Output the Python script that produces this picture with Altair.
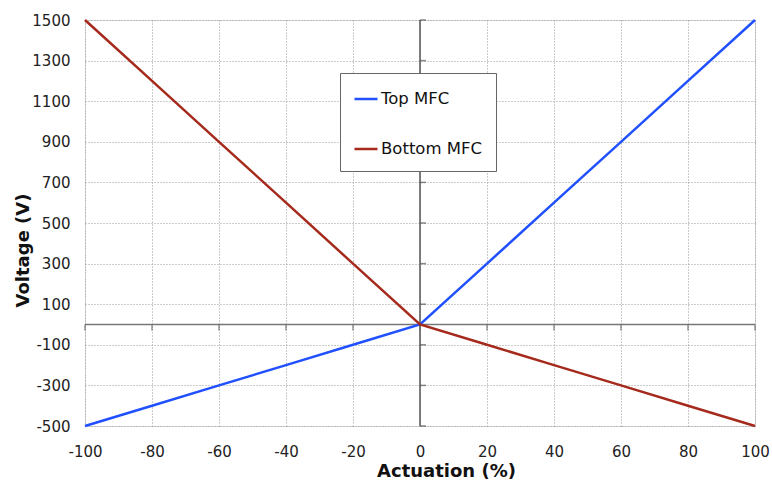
import altair as alt
import pandas as pd

actuation = [-100, -80, -60, -40, -20, 0, 20, 40, 60, 80, 100]
top_mfc = [-500, -400, -300, -200, -100, 0, 300, 600, 900, 1200, 1500]
bottom_mfc = [1500, 1200, 900, 600, 300, 0, -100, -200, -300, -400, -500]
series_names = ["Top MFC", "Bottom MFC"]
series_colors = ["#2050ff", "#a52a1c"]
x_ticks = [-100, -80, -60, -40, -20, 0, 20, 40, 60, 80, 100]
y_ticks = [-500, -300, -100, 100, 300, 500, 700, 900, 1100, 1300, 1500]

rows = []
for xv, t, b in zip(actuation, top_mfc, bottom_mfc):
    rows.append({"x": xv, "y": t, "s": "Top MFC"})
    rows.append({"x": xv, "y": b, "s": "Bottom MFC"})
df = pd.DataFrame(rows)

FONT = "DejaVu Sans"

xscale = alt.Scale(domain=[-100, 100], nice=False, zero=False)
yscale = alt.Scale(domain=[-500, 1500], nice=False, zero=False)

xaxis = alt.Axis(values=x_ticks, grid=True, gridDash=[1, 2], gridColor="#999999",
                 gridWidth=1, domain=False, ticks=False, labelPadding=18,
                 labelFlush=False, labelOverlap=False, labelExpr="datum.value + ''",
                 labelFont=FONT, labelFontSize=15, labelColor="#222222",
                 titleFont=FONT, titleFontSize=18, titleFontWeight="bold",
                 titleColor="#111111", titleX=361, titleY=50,
                 titleBaseline="alphabetic", titleAlign="center")
yaxis = alt.Axis(values=y_ticks, grid=True, gridDash=[1, 2], gridColor="#999999",
                 gridWidth=1, domain=False, ticks=False, labelPadding=15,
                 labelFlush=False, labelOverlap=False, labelExpr="datum.value + ''",
                 labelFont=FONT, labelFontSize=15, labelColor="#222222",
                 titleFont=FONT, titleFontSize=18, titleFontWeight="bold",
                 titleColor="#111111", titleX=-57, titleY=230,
                 titleBaseline="alphabetic", titleAlign="center", titleAngle=-90)


def X():
    return alt.X("x:Q", scale=xscale, title="Actuation (%)", axis=xaxis)


def Y():
    return alt.Y("y:Q", scale=yscale, title="Voltage (V)", axis=yaxis)


lines = alt.Chart(df).mark_line(strokeWidth=2.5).encode(
    x=X(), y=Y(),
    color=alt.Color("s:N", sort=series_names,
                    scale=alt.Scale(domain=series_names, range=series_colors),
                    legend=alt.Legend(title=None, orient="none", legendX=255, legendY=53,
                                      fillColor="white", strokeColor="#666666", padding=13,
                                      symbolType="stroke", symbolSize=529, symbolStrokeWidth=2.5,
                                      labelFont=FONT, labelFontSize=16.5, labelColor="#111111",
                                      labelOffset=2, rowPadding=28)),
    order=alt.Order("x:Q"),
)

zx = pd.DataFrame({"x": [0]})
zy = pd.DataFrame({"y": [0]})
vrule = alt.Chart(zx).mark_rule(color="#555555", strokeWidth=1.5).encode(x=X())
hrule = alt.Chart(zy).mark_rule(color="#777777", strokeWidth=1.5).encode(y=Y())

xt = pd.DataFrame({"x": x_ticks, "y": [0] * len(x_ticks)})
yt = pd.DataFrame({"y": y_ticks, "x": [0] * len(y_ticks)})
xtick = alt.Chart(xt).mark_tick(orient="vertical", size=6, yOffset=3, thickness=1.5,
                                color="#666666").encode(x=X(), y=Y())
ytick = alt.Chart(yt).mark_tick(orient="horizontal", size=6, xOffset=3, thickness=1.5,
                                color="#555555").encode(x=X(), y=Y())

chart = alt.layer(hrule, vrule, xtick, ytick, lines).properties(
    width=670, height=406,
    autosize=alt.AutoSizeParams(type="none"),
    padding={"left": 85, "top": 20, "right": 17, "bottom": 57},
).configure_view(stroke=None).configure(background="white")

chart.save("out.html", embed_options={"renderer": "svg", "actions": False})
